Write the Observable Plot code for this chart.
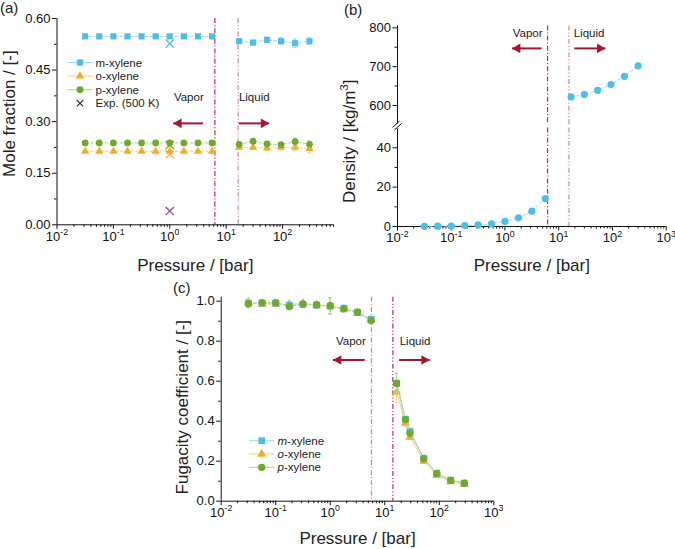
<!DOCTYPE html>
<html><head><meta charset="utf-8">
<script src="https://cdn.jsdelivr.net/npm/d3@7"></script>
<script src="https://cdn.jsdelivr.net/npm/@observablehq/plot@0.6"></script>
<style>
body{margin:0;background:#fff;}
#wrap{position:relative;width:675px;height:549px;overflow:hidden;background:#fff;}
</style></head><body><div id="wrap"></div>
<script>
const FONT = 'Arial, "Liberation Sans", Helvetica, sans-serif';

// ---------- data ----------
const pVap  = [0.0316, 0.0562, 0.1, 0.178, 0.316, 0.562, 1.0, 1.78, 3.16, 5.62];
const pLiq  = [17, 30, 53, 94, 167, 300];
const pLiqC = [16.5, 24, 29, 52, 90, 162, 287];

// (a) mole fractions
const xmVap = [0.548, 0.548, 0.548, 0.548, 0.548, 0.548, 0.548, 0.548, 0.548, 0.548];
const xmLiq = [0.534, 0.530, 0.538, 0.534, 0.528, 0.534];
const emLiq = [0.004, 0.004, 0.004, 0.010, 0.012, 0.010];
const xoVap = [0.214, 0.214, 0.214, 0.214, 0.214, 0.214, 0.214, 0.214, 0.214, 0.214];
const xoLiq = [0.225, 0.225, 0.223, 0.225, 0.225, 0.222];
const eoLiq = [0.006, 0.006, 0.006, 0.008, 0.010, 0.012];
const xpVap = [0.238, 0.238, 0.238, 0.238, 0.238, 0.238, 0.238, 0.238, 0.238, 0.238];
const xpLiq = [0.234, 0.243, 0.235, 0.233, 0.242, 0.234];
const epLiq = [0.004, 0.005, 0.005, 0.006, 0.010, 0.010];
const expP = [1, 1, 1, 1];
const expX = [0.527, 0.205, 0.232, 0.040];
const expC = ["#4fbde9", "#f4ae22", "#6daa2f", "#9a45a5"];

// (b) density
const rhoVap = [0.08, 0.14, 0.25, 0.45, 0.8, 1.4, 2.6, 4.4, 7.8, 14.2];
const rhoLiq = [622, 628, 639, 654, 675, 702];

// (c) fugacity coefficients
const fmVap = [0.99, 0.99, 0.99, 0.98, 0.985, 0.98, 0.975, 0.965, 0.945, 0.91];
const foVap = [0.995, 0.985, 0.985, 0.985, 0.99, 0.98, 0.975, 0.96, 0.94, 0.905];
const fpVap = [0.987, 0.993, 0.993, 0.973, 0.985, 0.982, 0.977, 0.962, 0.945, 0.903];
const efVap = [0.02, 0.01, 0.01, 0.015, 0.01, 0.015, 0.04, 0.015, 0.01, 0.01];
const fmLiq = [0.59, 0.41, 0.35, 0.215, 0.14, 0.105, 0.09];
const foLiq = [0.545, 0.39, 0.32, 0.2, 0.13, 0.098, 0.085];
const fpLiq = [0.589, 0.408, 0.341, 0.212, 0.139, 0.104, 0.09];
const efLiq = [0.05, 0.015, 0.01, 0.01, 0.01, 0.01, 0.01];

// phase boundaries (bar) per panel
const boundA = [6.3, 16.3];
const boundB = [6.2, 15.5];
const boundC = [5.7, 14.1];

// ticks
const xMajor = [0.01, 0.1, 1, 10, 100, 1000];
const yTicksA = [0, 0.15, 0.30, 0.45, 0.60];
const yMinorA = [0.075, 0.225, 0.375, 0.525];
const yTicksBlo = [0, 20, 40];
const yMinorBlo = [10, 30, 50];
const yTicksBhi = [600, 700, 800];
const yMinorBhi = [650, 750];
const yTicksC = [0, 0.2, 0.4, 0.6, 0.8, 1.0];
const yMinorC = [0.1, 0.3, 0.5, 0.7, 0.9];

// annotations (data coordinates)
const annA = {vx: 4.0, lx: 16.8, ty: 0.371, ay: 0.295, l: [3.9, 1.15], r: [16.8, 58]};
const annB = {vx: 5.0, lx: 19, ty: 786, ay: 747, l: [4.8, 1.35], r: [19.5, 74]};
const annC = {vx: 4.5, lx: 18.8, ty: 0.798, ay: 0.706, l: [4.3, 1.12], r: [18.3, 67]};

// ---------- style ----------
const cM = "#4fbde9", cO = "#f4ae22", cP = "#6daa2f";
const lM = "#9fd9f3", lO = "#f7cf85", lP = "#b3d493";
const cArrow = "#a5172f", cDark = "#c42a43", cPink = "#df8295";

function rows(ps, vs, es) { return ps.map((p, i) => ({p, v: vs[i], e: es ? es[i] : 0})); }
function minorTicks(lo, hi, max) { const o = []; for (let e = lo; e <= hi; e++) for (let k = 2; k <= 9; k++) { const v = k * 10 ** e; if (v <= max) o.push(v); } return o; }

function xAxes(maxX) {
  return [
    Plot.axisX({ticks: xMajor.filter(d => d <= maxX), tickSize: 4.5, tickPadding: 2, tickFormat: d => "10^" + Math.round(Math.log10(d)), label: null, fontSize: 13}),
    Plot.axisX({ticks: minorTicks(-2, 2, maxX), tickSize: 2.5, tickFormat: () => "", label: null})
  ];
}
function yAxes(maj, min, fmt) {
  return [
    Plot.axisY({ticks: maj, tickSize: 4.5, tickPadding: 2, tickFormat: fmt, label: null, fontSize: 13}),
    Plot.axisY({ticks: min, tickSize: 2.5, tickFormat: () => "", label: null})
  ];
}
function vlines(b, leftColor, rightColor) {
  return [
    Plot.ruleX([b[0]], {stroke: leftColor, strokeWidth: 1.2, strokeDasharray: "5,2,1.2,2"}),
    Plot.ruleX([b[1]], {stroke: rightColor, strokeWidth: 1.2, strokeDasharray: "5,2,1.2,2,1.2,2"})
  ];
}
function series(data, sym, fill, line, r, dash, errs) {
  const m = [];
  m.push(Plot.line(data, {x: "p", y: "v", stroke: line, strokeWidth: 1, strokeDasharray: dash}));
  if (errs) {
    const ed = data.filter(d => d.e > 0);
    m.push(Plot.ruleX(ed, {x: "p", y1: d => d.v - d.e, y2: d => d.v + d.e, stroke: line, strokeWidth: 1}));
    m.push(Plot.ruleY(ed, {y: d => d.v + d.e, x1: d => d.p / 1.07, x2: d => d.p * 1.07, stroke: line, strokeWidth: 1}));
    m.push(Plot.ruleY(ed, {y: d => d.v - d.e, x1: d => d.p / 1.07, x2: d => d.p * 1.07, stroke: line, strokeWidth: 1}));
  }
  m.push(Plot.dot(data, {x: "p", y: "v", symbol: sym, r, fill, stroke: "none"}));
  return m;
}
function annot(a) {
  return [
    Plot.text([{x: a.vx, y: a.ty, t: "Vapor"}], {x: "x", y: "y", text: "t", textAnchor: "end", fontSize: 11.5, fill: "#222"}),
    Plot.text([{x: a.lx, y: a.ty, t: "Liquid"}], {x: "x", y: "y", text: "t", textAnchor: "start", fontSize: 11.5, fill: "#222"}),
    Plot.link([{x1: a.l[0], x2: a.l[1], y: a.ay}], {x1: "x1", x2: "x2", y1: "y", y2: "y", stroke: cArrow, strokeWidth: 2}),
    Plot.dot([{x: a.l[1], y: a.ay}], {x: "x", y: "y", symbol: "triangle", r: 3.6, fill: cArrow, rotate: -90, dx: 5.6}),
    Plot.link([{x1: a.r[0], x2: a.r[1], y: a.ay}], {x1: "x1", x2: "x2", y1: "y", y2: "y", stroke: cArrow, strokeWidth: 2}),
    Plot.dot([{x: a.r[1], y: a.ay}], {x: "x", y: "y", symbol: "triangle", r: 3.6, fill: cArrow, rotate: 90, dx: -5.6})
  ];
}
function xTitle(dy) { return Plot.text(["Pressure / [bar]"], {text: d => d, frameAnchor: "bottom", textAnchor: "middle", lineAnchor: "middle", dy, fontSize: 17, fill: "#222"}); }
function yTitle(t, dx, dy) { return Plot.text([t], {text: d => d, frameAnchor: "left", textAnchor: "middle", lineAnchor: "middle", dx, dy, rotate: -90, fontSize: 17, fill: "#222"}); }
const baseStyle = {fontFamily: FONT, fontSize: "13px", background: "transparent", overflow: "visible", color: "#111"};

const wrap = document.getElementById("wrap");
function place(svg, left, top) {
  svg.style.position = "absolute"; svg.style.left = left + "px"; svg.style.top = top + "px";
  wrap.appendChild(svg); supify(svg);
}
function supify(svg) {
  const ns = "http://www.w3.org/2000/svg";
  svg.querySelectorAll("text").forEach(t => {
    const s = t.textContent;
    const m = s.match(/^(.*?)\^(-?\d+)(.*)$/);
    if (!m) return;
    const fs = parseFloat(getComputedStyle(t).fontSize) || 13;
    while (t.firstChild) t.removeChild(t.firstChild);
    const a = document.createElementNS(ns, "tspan"); a.textContent = m[1]; t.appendChild(a);
    const b = document.createElementNS(ns, "tspan"); b.textContent = m[2];
    b.setAttribute("dy", (-0.42 * fs).toFixed(1)); b.setAttribute("font-size", (0.68 * fs).toFixed(1)); t.appendChild(b);
    if (m[3]) { const c = document.createElementNS(ns, "tspan"); c.textContent = m[3]; c.setAttribute("dy", (0.42 * fs).toFixed(1)); t.appendChild(c); }
  });
}

// ---------- panel (a) ----------
const aM = [rows(pVap, xmVap), rows(pLiq, xmLiq, emLiq)];
const aO = [rows(pVap, xoVap), rows(pLiq, xoLiq, eoLiq)];
const aP = [rows(pVap, xpVap), rows(pLiq, xpLiq, epLiq)];
const expRows = expP.map((p, i) => ({p, v: expX[i], c: expC[i]}));
const plotA = Plot.plot({
  width: 340, height: 270, marginLeft: 56.5, marginRight: 7, marginTop: 18, marginBottom: 45.7,
  x: {type: "log", domain: [0.01, 800]},
  y: {domain: [0, 0.6]},
  style: baseStyle,
  marks: [
    ...vlines(boundA, cDark, cPink),
    Plot.ruleX([0.01], {stroke: "#111"}),
    Plot.ruleY([0], {stroke: "#111"}),
    ...xAxes(800),
    ...yAxes(yTicksA, yMinorA, d3.format(".2f")),
    ...aO.flatMap(d => series(d, "triangle", cO, lO, 3.1, "3,2", true)),
    ...aP.flatMap(d => series(d, "circle", cP, lP, 3.4, "3,2", true)),
    ...aM.flatMap(d => series(d, "square", cM, lM, 3.5, "3,2", true)),
    Plot.dot(expRows, {x: "p", y: "v", symbol: "times", r: 3.8, stroke: "c", strokeWidth: 1.3}),
    ...annot(annA),
    xTitle(40.7),
    yTitle("Mole fraction / [-]", -47, -8)
  ],
  color: {type: "identity"}
});
place(plotA, 0, 0);

// ---------- panel (b) ----------
const bHi = Plot.plot({
  width: 335, height: 270, marginLeft: 57, marginRight: 9.3, marginTop: 25.4, marginBottom: 145.6,
  x: {type: "log", domain: [0.01, 1000], axis: null},
  y: {domain: [550, 805]},
  style: baseStyle,
  marks: [
    ...vlines(boundB, cDark, cPink),
    Plot.ruleX([0.01], {stroke: "#111"}),
    ...yAxes(yTicksBhi, yMinorBhi, d3.format("d")),
    ...series(rows(pLiq, rhoLiq), "circle", cM, lM, 3.6, "3,2", false),
    ...annot(annB)
  ]
});
place(bHi, 340, 0);
const bLo = Plot.plot({
  width: 335, height: 270, marginLeft: 57, marginRight: 9.3, marginTop: 127.6, marginBottom: 44,
  x: {type: "log", domain: [0.01, 1000]},
  y: {domain: [0, 50]},
  style: baseStyle,
  marks: [
    ...vlines(boundB, cDark, cPink),
    Plot.ruleX([0.01], {stroke: "#111"}),
    Plot.ruleY([0], {stroke: "#111"}),
    ...xAxes(1000),
    ...yAxes(yTicksBlo, yMinorBlo, d3.format("d")),
    ...series(rows(pVap, rhoVap), "circle", cM, lM, 3.6, "3,2", false),
    xTitle(39),
    yTitle("Density / [kg/m^3]", -48, -36)
  ]
});
place(bLo, 340, 0);

// ---------- panel (c) ----------
const cSeries = [
  [rows(pVap, foVap, efVap), rows(pLiqC, foLiq, efLiq), "triangle", cO, lO, 3.4],
  [rows(pVap, fmVap, efVap), rows(pLiqC, fmLiq, efLiq), "square", cM, lM, 3.8],
  [rows(pVap, fpVap, efVap), rows(pLiqC, fpLiq, efLiq), "circle", cP, lP, 3.7]
];
const plotC = Plot.plot({
  width: 360, height: 279, marginLeft: 70.7, marginRight: 16.7, marginTop: 26.7, marginBottom: 48.3,
  x: {type: "log", domain: [0.01, 1000]},
  y: {domain: [0, 1.02]},
  style: baseStyle,
  marks: [
    ...vlines(boundC, cPink, cDark),
    Plot.ruleX([0.01], {stroke: "#111"}),
    Plot.ruleY([0], {stroke: "#111"}),
    ...xAxes(1000),
    ...yAxes(yTicksC, yMinorC, d3.format(".1f")),
    ...cSeries.flatMap(([v, l, sym, f, ln, r]) => [...series(v, sym, f, ln, r, "3,2", true), ...series(l, sym, f, ln, r, null, true)]),
    ...annot(annC),
    xTitle(37.6),
    yTitle("Fugacity coefficient / [-]", -39, 8)
  ]
});
place(plotC, 150, 270);

// ---------- overlay: panel letters, legends, axis break ----------
const ov = d3.select(wrap).append("svg")
  .attr("width", 675).attr("height", 549)
  .style("position", "absolute").style("left", "0px").style("top", "0px")
  .style("pointer-events", "none").style("font-family", FONT);
[["(a)", 0, 13], ["(b)", 344, 15], ["(c)", 173, 293]].forEach(([t, x, y]) =>
  ov.append("text").attr("x", x).attr("y", y).attr("font-size", 15).attr("fill", "#222").text(t));

function legend(items, x0, y0, step, x1, xm, xt) {
  items.forEach((it, i) => {
    const y = y0 + i * step;
    if (it.line) ov.append("line").attr("x1", x0).attr("x2", x1).attr("y1", y).attr("y2", y).attr("stroke", it.line).attr("stroke-width", 1);
    const sym = {square: d3.symbolSquare, triangle: d3.symbolTriangle, circle: d3.symbolCircle, times: d3.symbolTimes}[it.sym];
    const p = ov.append("path").attr("d", d3.symbol(sym, it.size)()).attr("transform", `translate(${xm},${y})`);
    if (it.sym === "times") p.attr("fill", "none").attr("stroke", it.color).attr("stroke-width", 1.1);
    else p.attr("fill", it.color);
    const t = ov.append("text").attr("x", xt).attr("y", y).attr("dy", "0.36em").attr("font-size", 11.5).attr("fill", "#222");
    if (it.ital) { t.append("tspan").attr("font-style", "italic").text(it.ital); t.append("tspan").text(it.rest); }
    else t.text(it.label);
  });
}
legend([
  {label: "m-xylene", sym: "square", color: cM, line: lM, size: 40},
  {label: "o-xylene", sym: "triangle", color: cO, line: lO, size: 32},
  {label: "p-xylene", sym: "circle", color: cP, line: lP, size: 38},
  {label: "Exp. (500 K)", sym: "times", color: "#222", line: null, size: 28}
], 67, 62.5, 13.6, 93, 80, 95.5);
legend([
  {ital: "m", rest: "-xylene", sym: "square", color: cM, line: lM, size: 44},
  {ital: "o", rest: "-xylene", sym: "triangle", color: cO, line: lO, size: 36},
  {ital: "p", rest: "-xylene", sym: "circle", color: cP, line: lP, size: 42}
], 249, 440.7, 13.3, 274, 261.7, 277.5);

// axis break marks on (b)
ov.append("rect").attr("x", 394).attr("y", 123.5).attr("width", 6).attr("height", 5).attr("fill", "#fff");
[[0, 0], [2, 2.5]].forEach(([dx, dy]) =>
  ov.append("line").attr("x1", 392.5 + dx).attr("y1", 127.5 + dy).attr("x2", 399.5 + dx).attr("y2", 121 + dy).attr("stroke", "#111").attr("stroke-width", 1));
</script></body></html>
